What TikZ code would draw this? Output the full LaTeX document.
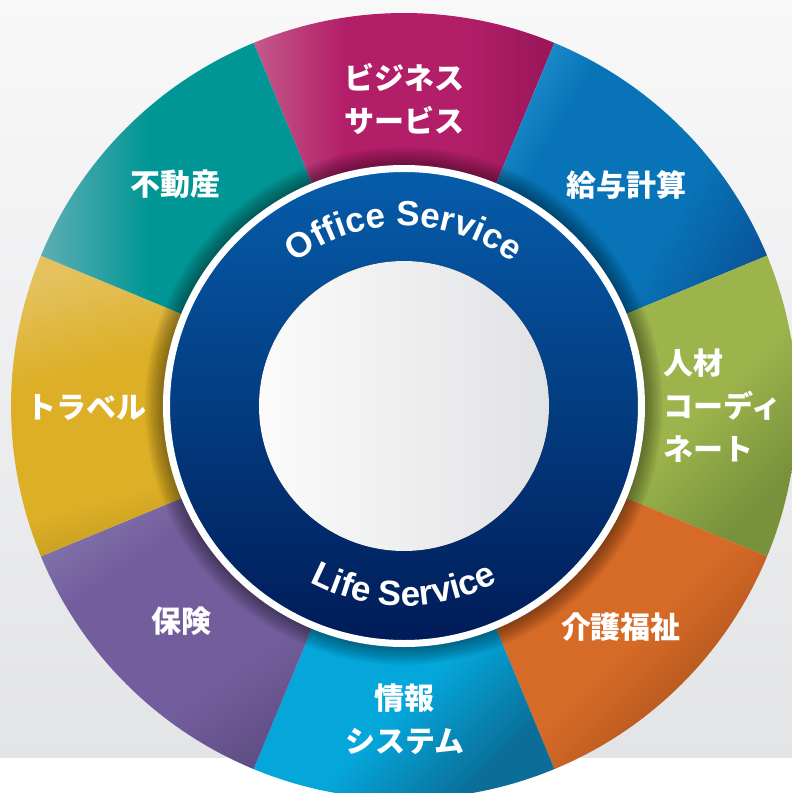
\documentclass[tikz,border=0pt]{standalone}
\usepackage{fontspec}
\usepackage{tikz}
\usetikzlibrary{calc,positioning,decorations.text}
\newfontfamily\jpfont{Noto Sans CJK JP}
\newfontfamily\ringfont{Liberation Sans}
\definecolor{bgtop}{HTML}{F8F8F9}
\definecolor{bgbot}{HTML}{E3E4E6}
\definecolor{ringtop}{HTML}{065DAB}
\definecolor{ringbot}{HTML}{001B57}
\definecolor{hubleft}{HTML}{FBFBFB}
\definecolor{hubright}{HTML}{E1E2E4}
% segment colours: light / main / dark
\definecolor{bizl}{HTML}{C35A8A}\definecolor{bizm}{HTML}{B31E69}\definecolor{bizd}{HTML}{981658}
\definecolor{payl}{HTML}{33A6DE}\definecolor{paym}{HTML}{0874B7}\definecolor{payd}{HTML}{0A5096}
\definecolor{hrl}{HTML}{ABC16C}\definecolor{hrm}{HTML}{9DB44C}\definecolor{hrd}{HTML}{78923C}
\definecolor{carel}{HTML}{DC742F}\definecolor{carem}{HTML}{D66A27}\definecolor{cared}{HTML}{AA521C}
\definecolor{itl}{HTML}{52C4EE}\definecolor{itm}{HTML}{05A6DA}\definecolor{itd}{HTML}{0A6E98}
\definecolor{insl}{HTML}{8A80B5}\definecolor{insm}{HTML}{735E9D}\definecolor{insd}{HTML}{5B4A80}
\definecolor{trvl}{HTML}{E4C15C}\definecolor{trvm}{HTML}{DCAF26}\definecolor{trvd}{HTML}{B38E20}
\definecolor{estl}{HTML}{5DAEB3}\definecolor{estm}{HTML}{009695}\definecolor{estd}{HTML}{00807E}
\colorlet{seglight}{white}\colorlet{segmain}{gray}\colorlet{segdark}{black}
\pgfdeclareverticalshading[seglight,segmain,segdark]{segshade}{100bp}{color(0bp)=(segdark);
  color(25bp)=(segdark); color(40bp)=(segmain); color(60bp)=(segmain);
  color(75bp)=(seglight); color(100bp)=(seglight)}

\tikzset{
  seglabel/.style={text=white, font=\jpfont\bfseries\fontsize{30}{43}\selectfont, align=center, inner sep=0pt},
  ringtext/.style={decorate, decoration={text along path, text align=center, text color=white,
      text={|\ringfont\bfseries\fontsize{35}{35}\selectfont|#1}}},
}

\begin{document}
\begin{tikzpicture}[x=1pt,y=1pt]
    \coordinate (Origin) at (0,0);
    \def\R{393}   % outer radius of the wheel
    \useasboundingbox (-404,-387) rectangle (388,406);
    \clip (-404,-387) rectangle (388,406);

    % background
    \fill[top color=bgtop, bottom color=bgbot] (-404,-352) rectangle (388,406);
    \fill[white] (-404,-387) rectangle (388,-352);

    % the eight segments
    \foreach \a/\cl/\cm/\cd/\sa in {90/bizl/bizm/bizd/90, 45/payl/paym/payd/60,
        0/hrl/hrm/hrd/45, -45/carel/carem/cared/45, -90/itl/itm/itd/45,
        -135/insl/insm/insd/35, 180/trvl/trvm/trvd/15, 135/estl/estm/estd/90}{
      \colorlet{seglight}{\cl}\colorlet{segmain}{\cm}\colorlet{segdark}{\cd}
      \path[shading=segshade, shading angle=\sa]
        (Origin) -- (\a-22.5:\R) arc[start angle=\a-22.5, end angle=\a+22.5, radius=\R] -- cycle;
    }

    % soft shadow round the ring
    \foreach \i in {1,...,12}{
      \fill[black, opacity=0.035] (Origin) circle ({241+1.5*\i});
    }

    % blue ring with white rim
    \fill[top color=ringtop, bottom color=ringbot] (Origin) circle (238);
    \draw[white, line width=7] (Origin) circle (237.5);
    \fill[left color=hubleft, right color=hubright] (Origin) circle (145);

    % ring texts
    \path[ringtext=Office Service] (180:180) arc[start angle=180, end angle=0, radius=180];
    \path[ringtext=Life Service] (180:200) arc[start angle=180, end angle=360, radius=200];

    % labels
    \node[seglabel] (biz)     at (1,307)    {ビジネス\\サービス};
    \node[seglabel] (payroll) at (222,221)  {給与計算};
    \node[seglabel, anchor=west, align=left] (staffing) at (259,0) {人材\\コーディ\\ネート};
    \node[seglabel] (care)    at (217,-221) {介護福祉};
    \node[seglabel] (it)      at (1,-313)   {情報\\システム};
    \node[seglabel] (insur)   at (-222,-215){保険};
    \node[seglabel] (travel)  at (-317,-2)  {トラベル};
    \node[seglabel] (estate)  at (-228,222) {不動産};
\end{tikzpicture}
\end{document}
